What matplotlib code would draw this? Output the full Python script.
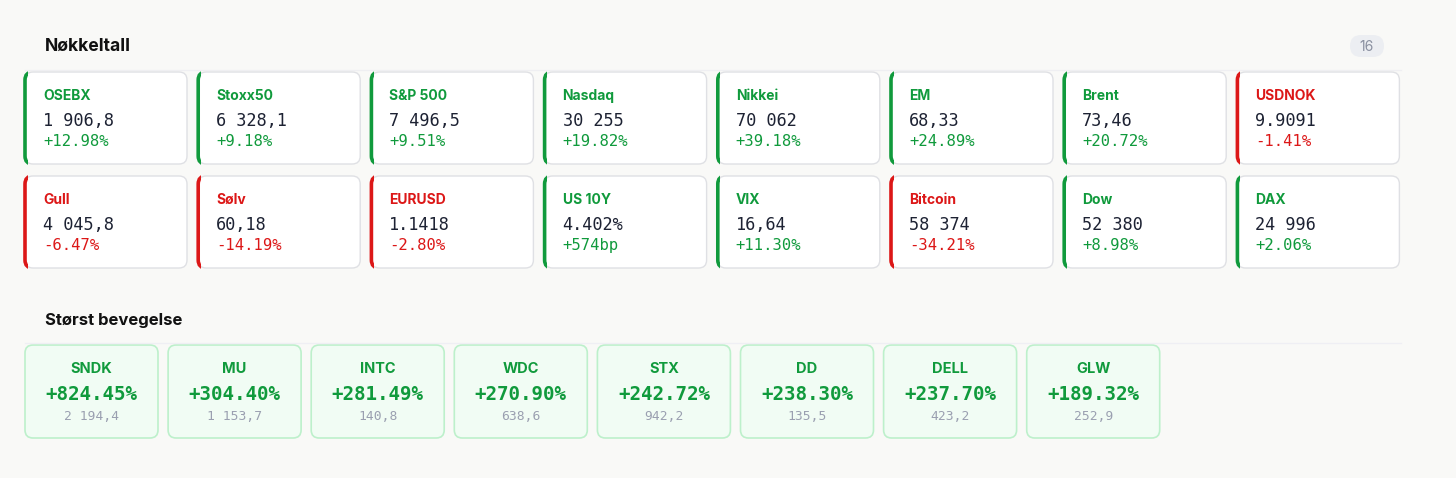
import matplotlib.pyplot as plt
from matplotlib.patches import FancyBboxPatch, Rectangle

# key figures
names = ['OSEBX', 'Stoxx50', 'S&P 500', 'Nasdaq', 'Nikkei', 'EM', 'Brent', 'USDNOK',
         'Gull', 'Sølv', 'EURUSD', 'US 10Y', 'VIX', 'Bitcoin', 'Dow', 'DAX']
values = ['1 906,8', '6 328,1', '7 496,5', '30 255', '70 062', '68,33', '73,46', '9.9091',
          '4 045,8', '60,18', '1.1418', '4.402%', '16,64', '58 374', '52 380', '24 996']
changes = ['+12.98%', '+9.18%', '+9.51%', '+19.82%', '+39.18%', '+24.89%', '+20.72%', '-1.41%',
           '-6.47%', '-14.19%', '-2.80%', '+574bp', '+11.30%', '-34.21%', '+8.98%', '+2.06%']

# biggest movers
movers = ['SNDK', 'MU', 'INTC', 'WDC', 'STX', 'DD', 'DELL', 'GLW']
mover_pct = ['+824.45%', '+304.40%', '+281.49%', '+270.90%', '+242.72%', '+238.30%', '+237.70%', '+189.32%']
mover_price = ['2 194,4', '1 153,7', '140,8', '638,6', '942,2', '135,5', '423,2', '252,9']

GREEN = '#109a3c'
RED = '#dc1717'
BG = '#f9f9f7'
INK = '#1d2233'
SANS = ['Inter', 'DejaVu Sans']
MONO = 'DejaVu Sans Mono'

W, H = 1456, 478
fig = plt.figure(figsize=(W / 100, H / 100), dpi=100, facecolor=BG)
ax = fig.add_axes([0, 0, 1, 1])
ax.set_xlim(0, W)
ax.set_ylim(H, 0)
ax.axis('off')

# header
ax.text(45, 46, 'Nøkkeltall', fontsize=12.6, fontweight='bold', family=SANS,
        color='#111111', va='center')
ax.add_patch(FancyBboxPatch((1350, 35), 34, 22, boxstyle='round,pad=0,rounding_size=11',
                            fc='#eceef2', ec='none'))
ax.text(1367, 46.5, str(len(names)), fontsize=10, family=SANS, color='#8a90a0',
        ha='center', va='center')
ax.plot([25, 1401], [70, 70], color='#efeff2', lw=1)

cw, ch = 162, 92
pitch = 173.2
for i, (nm, val, chg) in enumerate(zip(names, values, changes)):
    r, c = divmod(i, 8)
    x0 = 25 + c * pitch
    y0 = 72 + r * 104
    col = RED if chg.startswith('-') else GREEN
    ax.add_patch(FancyBboxPatch((x0, y0), cw, ch, boxstyle='round,pad=0,rounding_size=8',
                                fc='white', ec='#dfe0e4', lw=1))
    accent = FancyBboxPatch((x0, y0), cw, ch, boxstyle='round,pad=0,rounding_size=8',
                            fc='none', ec=col, lw=2.6)
    ax.add_patch(accent)
    clip = Rectangle((x0 - 3, y0 - 3), 5.5, ch + 6, transform=ax.transData)
    accent.set_clip_path(clip)
    ax.text(x0 + 18, y0 + 23.5, nm, fontsize=10, fontweight='bold', family=SANS,
            color=col, va='center')
    ax.text(x0 + 18, y0 + 48.5, val, fontsize=12.2, family=MONO, color=INK, va='center')
    ax.text(x0 + 18, y0 + 69.5, chg, fontsize=11.2, family=MONO, color=col, va='center')

# biggest movers section
ax.text(45, 320, 'Størst bevegelse', fontsize=12, fontweight='bold', family=SANS,
        color='#111111', va='center')
ax.plot([25, 1401], [343, 343], color='#efeff4', lw=1)

mw, mh = 133, 93
mpitch = 143.1
for i, (tk, pct, px) in enumerate(zip(movers, mover_pct, mover_price)):
    x0 = 25 + i * mpitch
    y0 = 345
    cx = x0 + mw / 2
    ax.add_patch(FancyBboxPatch((x0, y0), mw, mh, boxstyle='round,pad=0,rounding_size=8',
                                fc='#f1fcf4', ec='#bdf0cb', lw=1.2))
    ax.text(cx, y0 + 24, tk, fontsize=10.5, fontweight='bold', family=SANS,
            color=GREEN, ha='center', va='center')
    ax.text(cx, y0 + 49, pct, fontsize=13.8, fontweight='bold', family=MONO,
            color=GREEN, ha='center', va='center')
    ax.text(cx, y0 + 72, px, fontsize=9.4, family=MONO, color='#9a9fb0',
            ha='center', va='center')

fig.savefig('out.png', dpi=100, facecolor=BG)
